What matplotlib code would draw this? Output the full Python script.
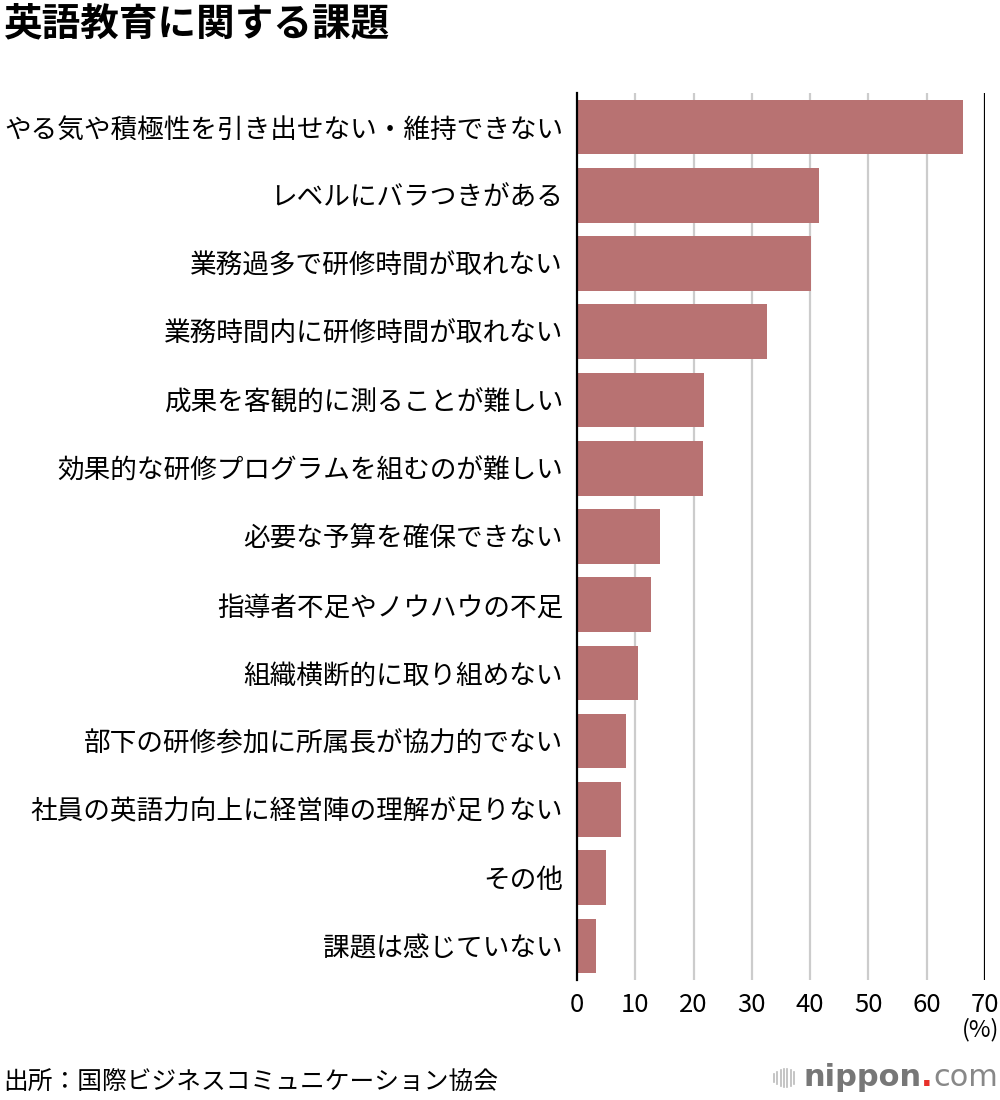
import matplotlib
matplotlib.use("Agg")
import matplotlib.pyplot as plt
from matplotlib.lines import Line2D

plt.rcParams['font.family'] = ['Noto Sans CJK JP', 'DejaVu Sans']

title = "英語教育に関する課題"
source = "出所：国際ビジネスコミュニケーション協会"
categories = [
    "やる気や積極性を引き出せない・維持できない",
    "レベルにバラつきがある",
    "業務過多で研修時間が取れない",
    "業務時間内に研修時間が取れない",
    "成果を客観的に測ることが難しい",
    "効果的な研修プログラムを組むのが難しい",
    "必要な予算を確保できない",
    "指導者不足やノウハウの不足",
    "組織横断的に取り組めない",
    "部下の研修参加に所属長が協力的でない",
    "社員の英語力向上に経営陣の理解が足りない",
    "その他",
    "課題は感じていない",
]
values = [66.3, 41.5, 40.2, 32.6, 21.8, 21.6, 14.2, 12.7, 10.5, 8.4, 7.6, 4.9, 3.2]
xticks = [0, 10, 20, 30, 40, 50, 60, 70]
unit_label = "(%)"

fig = plt.figure(figsize=(10, 11), dpi=100)
ax = fig.add_axes([0.577, 0.1091, 0.408, 0.8064])

ypos = list(range(len(categories)))
ax.barh(ypos, values, height=0.8, color="#b87272", zorder=3)
ax.set_ylim(len(categories) - 0.5, -0.5)
ax.set_xlim(0, 70)

ax.set_yticks(ypos)
ax.set_yticklabels(categories, fontsize=19.2)
ax.set_xticks(xticks)
ax.set_xticklabels([str(t) for t in xticks], fontsize=18.5)
ax.tick_params(axis='y', length=0, pad=10)
ax.tick_params(axis='x', length=0, pad=9)

for t in xticks[1:-1]:
    ax.axvline(t, color="#cccccc", lw=1.6, zorder=1)
ax.axvline(70, color="black", lw=1.6, zorder=2)

for s in ['top', 'bottom', 'right']:
    ax.spines[s].set_visible(False)
ax.spines['left'].set_linewidth(1.6)
ax.spines['left'].set_zorder(4)

fig.text(0.004, 0.978, title, fontsize=27.8, fontweight='bold', ha='left', va='center')
fig.text(0.999, 1 - 1030/1100, unit_label, fontsize=17, ha='right', va='center')
fig.text(0.003, 1 - 1082/1100, source, fontsize=17.8, ha='left', va='center')

# logo
for i, h in enumerate([8, 12, 16, 18, 18, 16, 12]):
    x = (774 + i * 3.3) / 1000
    yc = 1 - 1078 / 1100
    fig.add_artist(Line2D([x, x], [yc - h / 2200, yc + h / 2200], color="#bbbbbb", lw=1.2))
fig.text(0.804, 1 - 1077/1100, "nippon", fontsize=22, fontweight='bold', color="#777777",
         ha='left', va='center', family='DejaVu Sans')
fig.text(0.921, 1 - 1077/1100, ".", fontsize=22, fontweight='bold', color="#e8302a",
         ha='left', va='center', family='DejaVu Sans')
fig.text(0.933, 1 - 1077/1100, "com", fontsize=22, color="#888888",
         ha='left', va='center', family='DejaVu Sans')

fig.savefig("out.png", dpi=100)
